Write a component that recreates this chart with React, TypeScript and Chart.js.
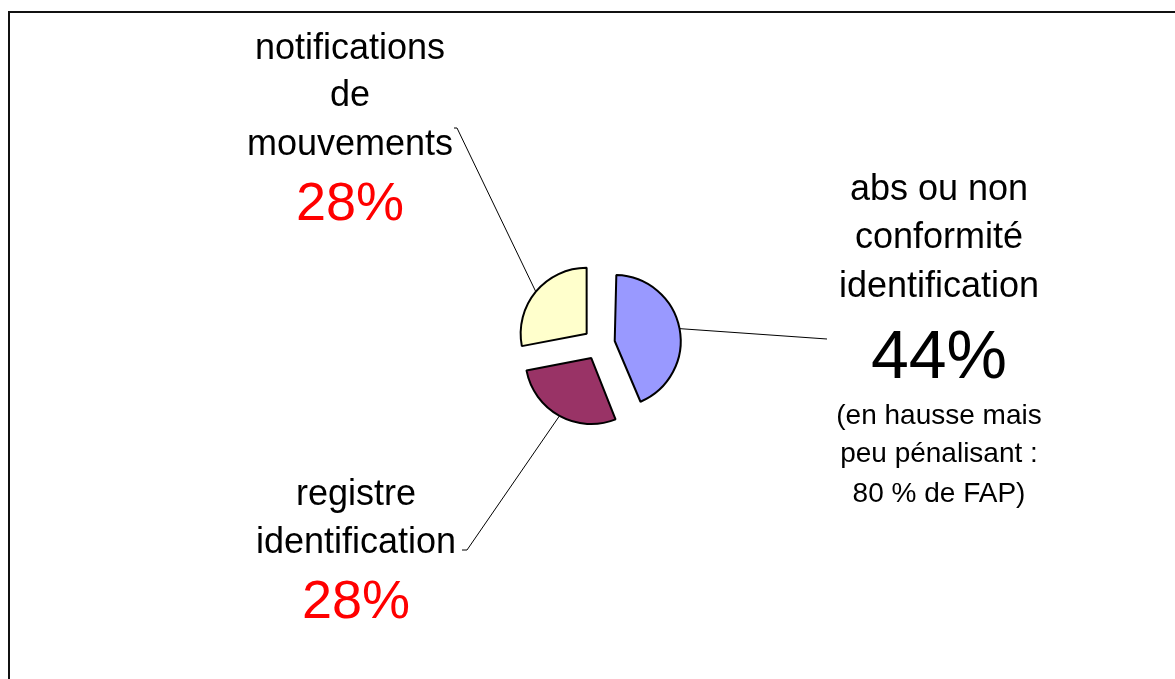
import React, { useEffect, useRef } from "react";
import { Chart, registerables } from "chart.js";

Chart.register(...registerables);

// ---- data ----
const categories = [
  "abs ou non conformité identification",
  "registre identification",
  "notifications de mouvements",
];
const values = [44, 28, 28];
const sliceColors = ["#9999FF", "#993366", "#FFFFCC"];
const labelLines = [
  ["abs ou non", "conformité", "identification"],
  ["registre", "identification"],
  ["notifications", "de", "mouvements"],
];
const percentColors = ["#000000", "#FF0000", "#FF0000"];
const noteLines = ["(en hausse mais", "peu pénalisant :", "80 % de FAP)"];

// ---- layout (canvas coordinates) ----
const W = 1167;
const H = 671;
const RADIUS = 66;
const EXPLODE = 16;
const FONT = "'Liberation Sans', Arial, Helvetica, sans-serif";

type LabelLayout = {
  x: number;
  lineBaselines: number[];
  pctBaseline: number;
  pctSize: number;
  notesBaselines?: number[];
  leader: [number, number][];
};

const labelLayout: LabelLayout[] = [
  {
    x: 931,
    lineBaselines: [192, 240, 289],
    pctBaseline: 370,
    pctSize: 68,
    notesBaselines: [416, 454, 494],
    leader: [[819, 331]],
  },
  {
    x: 348,
    lineBaselines: [497, 545],
    pctBaseline: 610,
    pctSize: 54,
    leader: [[459, 542], [454, 542]],
  },
  {
    x: 342,
    lineBaselines: [51, 98, 147],
    pctBaseline: 212,
    pctSize: 54,
    leader: [[449, 120], [446, 120]],
  },
];

const radiusFix = {
  id: "radiusFix",
  afterDatasetUpdate(chart: any, args: any) {
    const meta = args.meta;
    meta.data.forEach((arc: any) => {
      const circ = arc.endAngle - arc.startAngle;
      const fix = 1 - Math.sin(Math.min(Math.PI, circ));
      arc.outerRadius = RADIUS - EXPLODE * fix;
    });
  },
};

const framePlugin = {
  id: "frame",
  beforeDraw(chart: any) {
    const ctx = chart.ctx as CanvasRenderingContext2D;
    ctx.save();
    ctx.strokeStyle = "#111111";
    ctx.lineWidth = 2;
    ctx.strokeRect(1, 4, 3000, 3000);
    ctx.restore();
  },
};

const labelsPlugin = {
  id: "pieLabels",
  afterDraw(chart: any) {
    const ctx = chart.ctx as CanvasRenderingContext2D;
    const meta = chart.getDatasetMeta(0);
    ctx.save();
    meta.data.forEach((arc: any, i: number) => {
      const lay = labelLayout[i];
      const mid = (arc.startAngle + arc.endAngle) / 2;
      const cx = arc.x + Math.cos(mid) * EXPLODE;
      const cy = arc.y + Math.sin(mid) * EXPLODE;
      const ex = cx + Math.cos(mid) * RADIUS;
      const ey = cy + Math.sin(mid) * RADIUS;

      ctx.strokeStyle = "#000";
      ctx.lineWidth = 1;
      ctx.beginPath();
      ctx.moveTo(ex, ey);
      lay.leader.forEach(([lx, ly]) => ctx.lineTo(lx, ly));
      ctx.stroke();

      ctx.textAlign = "center";
      ctx.textBaseline = "alphabetic";
      ctx.fillStyle = "#000";
      ctx.font = `36px ${FONT}`;
      labelLines[i].forEach((t, k) => ctx.fillText(t, lay.x, lay.lineBaselines[k]));
      ctx.fillStyle = percentColors[i];
      ctx.font = `${lay.pctSize}px ${FONT}`;
      ctx.fillText(`${values[i]}%`, lay.x, lay.pctBaseline);
      if (lay.notesBaselines) {
        ctx.fillStyle = "#000";
        ctx.font = `28px ${FONT}`;
        noteLines.forEach((t, k) => ctx.fillText(t, lay.x, lay.notesBaselines![k]));
      }
    });
    ctx.restore();
  },
};

export default function App() {
  const ref = useRef<HTMLCanvasElement | null>(null);
  useEffect(() => {
    document.body.style.margin = "8px 0 0 8px";
    document.body.style.overflow = "hidden";
    if (!ref.current) return;
    const chart = new Chart(ref.current, {
      type: "pie",
      data: {
        labels: categories,
        datasets: [
          {
            data: values,
            backgroundColor: sliceColors,
            borderColor: "#000000",
            borderWidth: 2,
            offset: EXPLODE * 4,
          },
        ],
      },
      options: {
        responsive: false,
        animation: false,
        events: [],
        radius: RADIUS,
        layout: { padding: { left: 441, right: 426, top: 186, bottom: H - 486 } },
        plugins: {
          legend: { display: false },
          tooltip: { enabled: false },
        },
      } as any,
      plugins: [framePlugin, radiusFix, labelsPlugin],
    });
    return () => chart.destroy();
  }, []);
  return (
    <canvas ref={ref} width={W} height={H} style={{ display: "block", width: W, height: H }} />
  );
}
